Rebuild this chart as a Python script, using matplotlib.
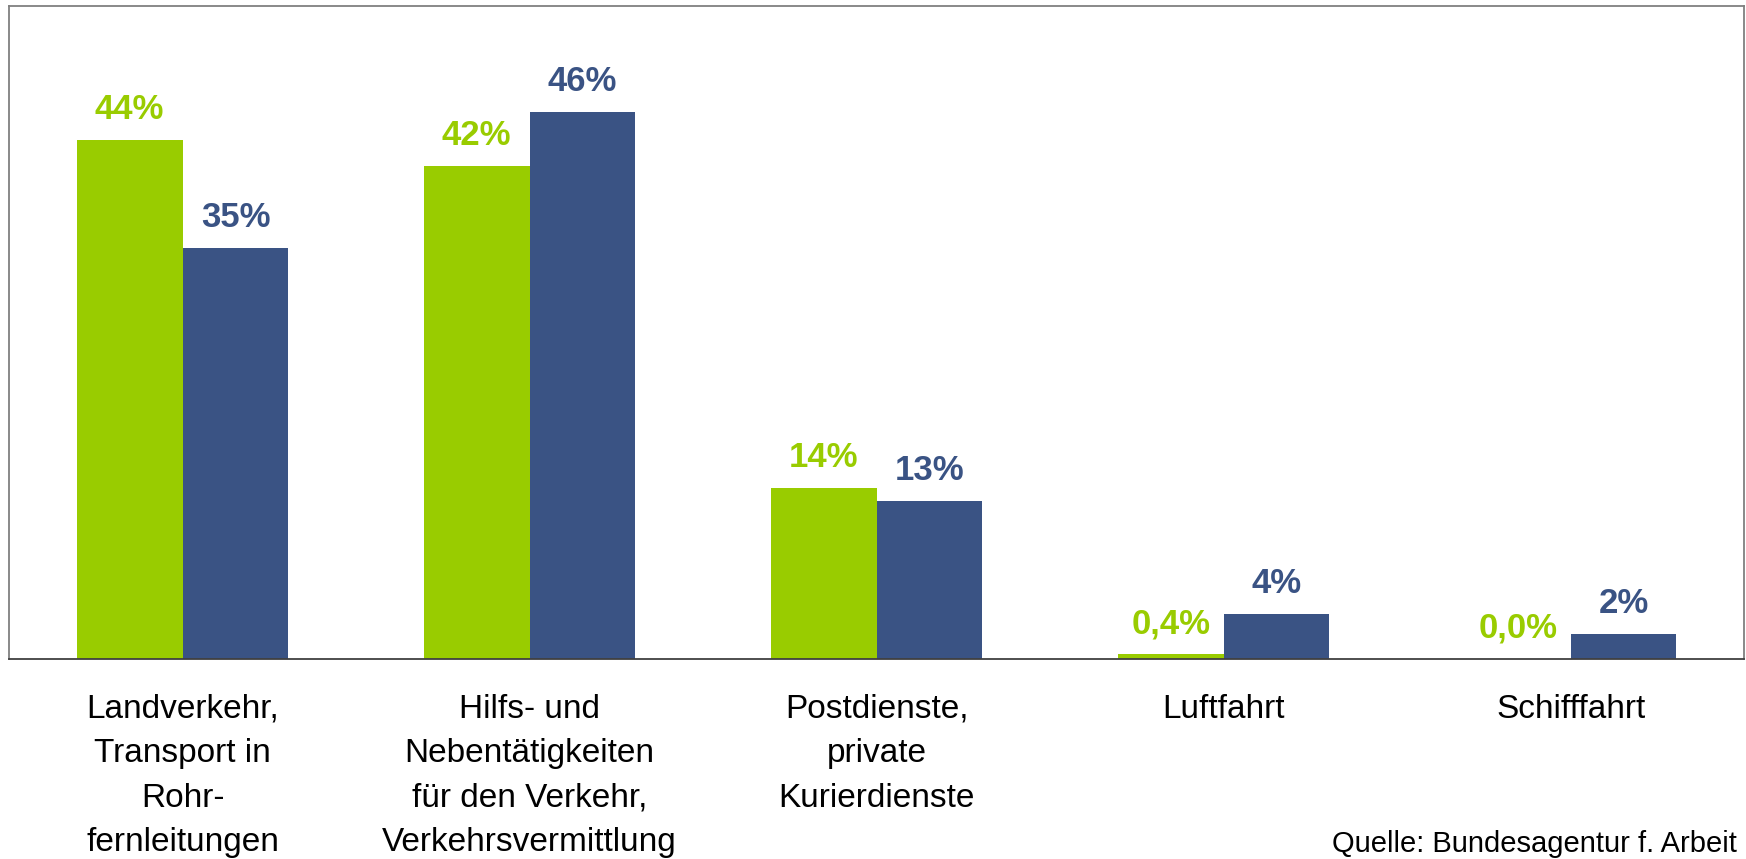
import matplotlib.pyplot as plt
import numpy as np

plt.rcParams['font.family'] = ['Liberation Sans', 'DejaVu Sans']

# Categories and values
categories = [
    'Landverkehr,\nTransport in\nRohr-\nfernleitungen',
    'Hilfs- und\nNebentätigkeiten\nfür den Verkehr,\nVerkehrsvermittlung',
    'Postdienste,\nprivate\nKurierdienste',
    'Luftfahrt',
    'Schifffahrt',
]
green_values = [44.0, 41.8, 14.5, 0.4, 0.0]
blue_values = [34.9, 46.4, 13.4, 3.8, 2.1]
green_labels = ['44%', '42%', '14%', '0,4%', '0,0%']
blue_labels = ['35%', '46%', '13%', '4%', '2%']

green = '#99CC00'
blue = '#3A5384'

fig = plt.figure(figsize=(17.46, 8.59), dpi=100)
ax = fig.add_axes([0.0052, 0.2328, 0.9937, 0.7602])

x = np.arange(len(categories))
w = 0.305
ax.bar(x - w / 2, green_values, width=w, color=green, linewidth=0)
ax.bar(x + w / 2, blue_values, width=w, color=blue, linewidth=0)

# value labels above bars
for xi, v, lab in zip(x, green_values, green_labels):
    ax.annotate(lab, (xi - w / 2, v), xytext=(0, 22), textcoords='offset points',
                ha='center', va='center', fontsize=25, fontweight='bold', color=green)
for xi, v, lab in zip(x, blue_values, blue_labels):
    ax.annotate(lab, (xi + w / 2, v), xytext=(0, 22), textcoords='offset points',
                ha='center', va='center', fontsize=25, fontweight='bold', color=blue)

ax.set_xlim(-0.5, 4.5)
ax.set_ylim(0, 55.4)
ax.set_yticks([])
ax.set_xticks(x)
ax.set_xticklabels(categories, fontsize=24, linespacing=1.56, multialignment='center')
ax.tick_params(axis='x', length=0, pad=25)

for s in ['top', 'left', 'right']:
    ax.spines[s].set_color('#808080')
    ax.spines[s].set_linewidth(1.3)
ax.spines['bottom'].set_color('#404040')
ax.spines['bottom'].set_linewidth(1.3)

fig.text(0.995, 0.018, 'Quelle: Bundesagentur f. Arbeit', ha='right', va='center',
         fontsize=21, color='black')

fig.savefig('out.png', dpi=100)
